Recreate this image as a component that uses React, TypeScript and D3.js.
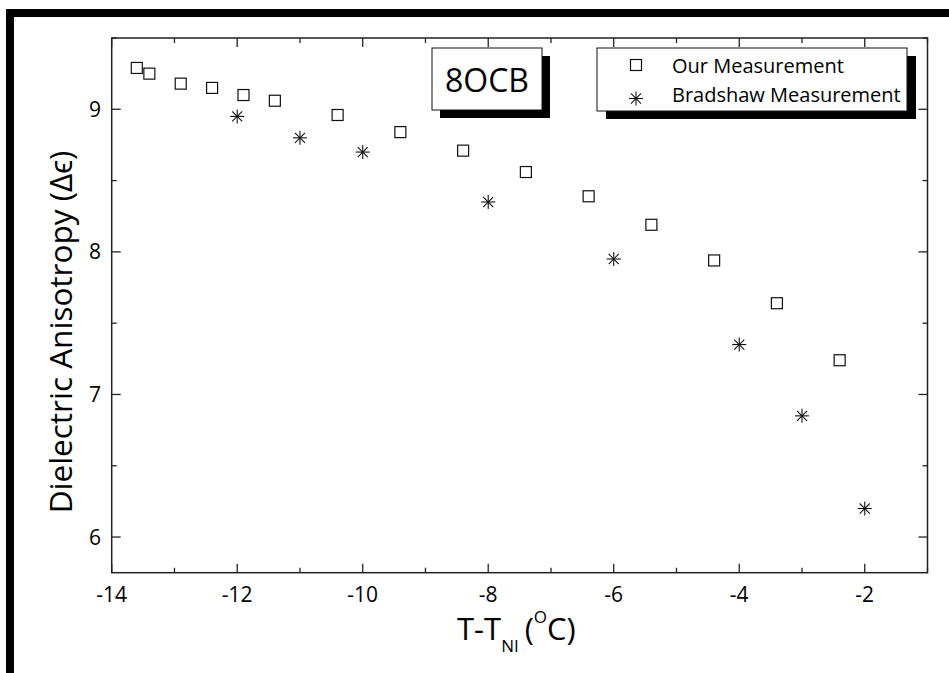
import * as d3 from 'd3';
import React, { useEffect, useRef } from 'react';

// Our measurement (open squares)
const ourTemps = [-13.6, -13.4, -12.9, -12.4, -11.9, -11.4, -10.4, -9.4, -8.4, -7.4, -6.4, -5.4, -4.4, -3.4, -2.4];
const ourValues = [9.29, 9.25, 9.18, 9.15, 9.1, 9.06, 8.96, 8.84, 8.71, 8.56, 8.39, 8.19, 7.94, 7.64, 7.24];

// Bradshaw measurement (asterisks)
const bradTemps = [-12, -11, -10, -8, -6, -4, -3, -2];
const bradValues = [8.95, 8.8, 8.7, 8.35, 7.95, 7.35, 6.85, 6.2];

const xMajorTicks = [-14, -12, -10, -8, -6, -4, -2];
const xMinorTicks = [-13, -11, -9, -7, -5, -3, -1];
const yMajorTicks = [6, 7, 8, 9];
const yMinorTicks = [6.5, 7.5, 8.5, 9.5];

const seriesNames = ['Our Measurement', 'Bradshaw Measurement'];
const sampleName = '8OCB';

const FONT = "'Open Sans', sans-serif";

function drawStar(g, cx, cy, r) {
    const arms = [[0, r], [r, 0], [r * 0.72, r * 0.72], [r * 0.72, -r * 0.72]];
    arms.forEach(([dx, dy]) => {
        g.append('line')
            .attr('x1', cx - dx).attr('y1', cy - dy)
            .attr('x2', cx + dx).attr('y2', cy + dy)
            .attr('stroke', '#111')
            .attr('stroke-width', 1.1);
    });
}

const App = () => {
    const svgRef = useRef(null);

    useEffect(() => {
        const svg = d3.select(svgRef.current);
        svg.selectAll('*').remove();

        const left = 111.7, right = 927.5, top = 38, bottom = 572.7;

        const x = d3.scaleLinear().domain([-14, -1]).range([left, right]);
        const y = d3.scaleLinear().domain([5.75, 9.5]).range([bottom, top]);

        // black frame pieces
        svg.append('rect').attr('x', 6).attr('y', 9).attr('width', 943).attr('height', 8).attr('fill', '#000');
        svg.append('rect').attr('x', 6).attr('y', 9).attr('width', 8).attr('height', 664).attr('fill', '#000');

        // axes box
        svg.append('rect')
            .attr('x', left).attr('y', top)
            .attr('width', right - left).attr('height', bottom - top)
            .attr('fill', 'none')
            .attr('stroke', '#222')
            .attr('stroke-width', 1.5);

        const ticks = svg.append('g').attr('stroke', '#222').attr('stroke-width', 1.3);
        const addXTicks = (vals, len) => {
            vals.forEach(v => {
                ticks.append('line').attr('x1', x(v)).attr('x2', x(v)).attr('y1', bottom).attr('y2', bottom - len);
                ticks.append('line').attr('x1', x(v)).attr('x2', x(v)).attr('y1', top).attr('y2', top + len);
            });
        };
        const addYTicks = (vals, len) => {
            vals.forEach(v => {
                ticks.append('line').attr('x1', left).attr('x2', left + len).attr('y1', y(v)).attr('y2', y(v));
                ticks.append('line').attr('x1', right).attr('x2', right - len).attr('y1', y(v)).attr('y2', y(v));
            });
        };
        addXTicks(xMajorTicks, 9);
        addXTicks(xMinorTicks, 5);
        addYTicks(yMajorTicks, 9);
        addYTicks(yMinorTicks, 5);

        // tick labels
        svg.append('g').selectAll('text')
            .data(xMajorTicks)
            .enter().append('text')
            .attr('x', d => x(d))
            .attr('y', 602)
            .attr('text-anchor', 'middle')
            .attr('font-family', FONT)
            .attr('font-size', 21)
            .text(d => d);

        svg.append('g').selectAll('text')
            .data(yMajorTicks)
            .enter().append('text')
            .attr('x', 101)
            .attr('y', d => y(d))
            .attr('dy', '0.36em')
            .attr('text-anchor', 'end')
            .attr('font-family', FONT)
            .attr('font-size', 21)
            .text(d => d);

        // data: squares
        svg.append('g').selectAll('rect')
            .data(ourTemps.map((t, i) => [t, ourValues[i]]))
            .enter().append('rect')
            .attr('x', d => x(d[0]) - 5.5)
            .attr('y', d => y(d[1]) - 5.5)
            .attr('width', 11)
            .attr('height', 11)
            .attr('fill', 'none')
            .attr('stroke', '#111')
            .attr('stroke-width', 1.2);

        // data: stars
        const stars = svg.append('g');
        bradTemps.forEach((t, i) => drawStar(stars, x(t), y(bradValues[i]), 7));

        // sample label box with shadow
        svg.append('rect').attr('x', 440).attr('y', 56).attr('width', 110).attr('height', 62).attr('fill', '#000');
        svg.append('rect').attr('x', 432).attr('y', 48).attr('width', 110).attr('height', 62)
            .attr('fill', '#fff').attr('stroke', '#111').attr('stroke-width', 1);
        svg.append('text')
            .attr('x', 487).attr('y', 92)
            .attr('text-anchor', 'middle')
            .attr('font-family', FONT)
            .attr('font-size', 32)
            .text(sampleName);

        // legend with shadow
        svg.append('rect').attr('x', 606).attr('y', 56).attr('width', 310).attr('height', 63).attr('fill', '#000');
        svg.append('rect').attr('x', 597).attr('y', 48).attr('width', 310).attr('height', 63)
            .attr('fill', '#fff').attr('stroke', '#111').attr('stroke-width', 1);
        svg.append('rect').attr('x', 636 - 5.5).attr('y', 65 - 5.5).attr('width', 11).attr('height', 11)
            .attr('fill', 'none').attr('stroke', '#111').attr('stroke-width', 1.2);
        drawStar(svg.append('g'), 636, 98.5, 7);
        [73, 102].forEach((by, i) => {
            svg.append('text')
                .attr('x', 672).attr('y', by)
                .attr('font-family', FONT)
                .attr('font-size', 20)
                .text(seriesNames[i]);
        });

        // y-axis title
        svg.append('text')
            .attr('transform', 'translate(72, 332) rotate(-90)')
            .attr('text-anchor', 'middle')
            .attr('font-family', FONT)
            .attr('font-size', 31.5)
            .text('Dielectric Anisotropy (\u0394\u03f5)');

        // x-axis title with sub/superscript
        const xt = svg.append('text')
            .attr('x', 457).attr('y', 640)
            .attr('font-family', FONT)
            .attr('font-size', 31);
        xt.append('tspan').text('T-T');
        xt.append('tspan').attr('dy', 12).attr('font-size', 17).text('NI');
        xt.append('tspan').attr('dy', -12).attr('dx', 6).text('(');
        xt.append('tspan').attr('dy', -17).attr('font-size', 17).text('O');
        xt.append('tspan').attr('dy', 17).text('C)');
    }, []);

    return (
        <svg ref={svgRef} width={949} height={673}
            style={{ position: 'absolute', left: 0, top: 0, background: '#fff' }} />
    );
};

export default App;
